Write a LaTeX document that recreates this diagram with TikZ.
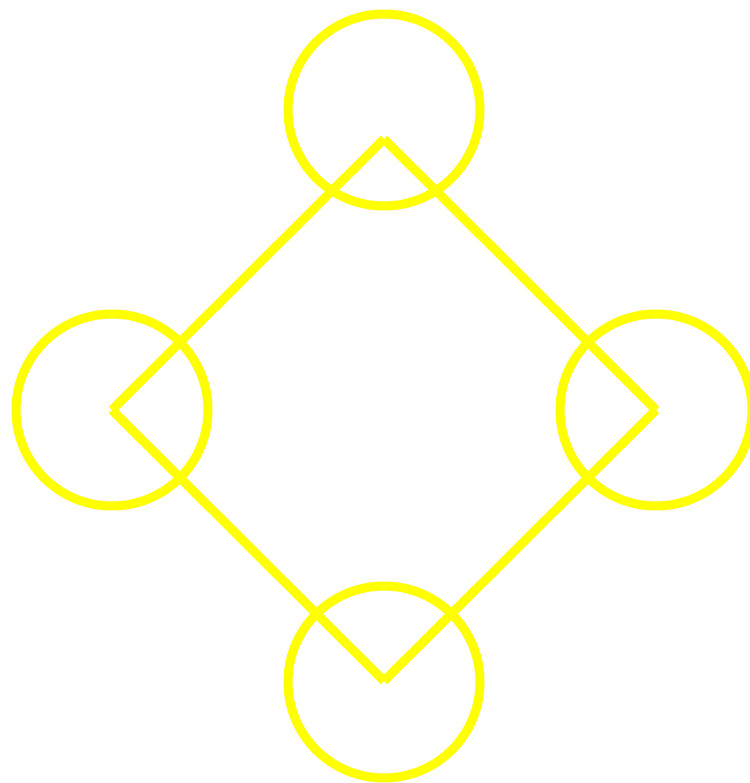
\documentclass[tikz,border=0pt]{standalone}
\definecolor{ylw}{RGB}{255,255,0}
\begin{document}
\begin{tikzpicture}[x=1pt,y=-1pt,
  ring/.style={draw=ylw,line width=9pt},
  edge/.style={draw=ylw,line width=9pt,line cap=butt}]
\useasboundingbox (0,0) rectangle (749,783);
\coordinate (T) at (384,139);
\coordinate (L) at (112,410);
\coordinate (R) at (656,410);
\coordinate (B) at (384,681);
\draw[ring] (384,110) circle[radius=96];
\draw[ring] (112,410) circle[radius=96];
\draw[ring] (656,410) circle[radius=96];
\draw[ring] (384,682) circle[radius=96];
\draw[edge] (L) -- (T);
\draw[edge] (T) -- (R);
\draw[edge] (R) -- (B);
\draw[edge] (B) -- (L);
\end{tikzpicture}
\end{document}
